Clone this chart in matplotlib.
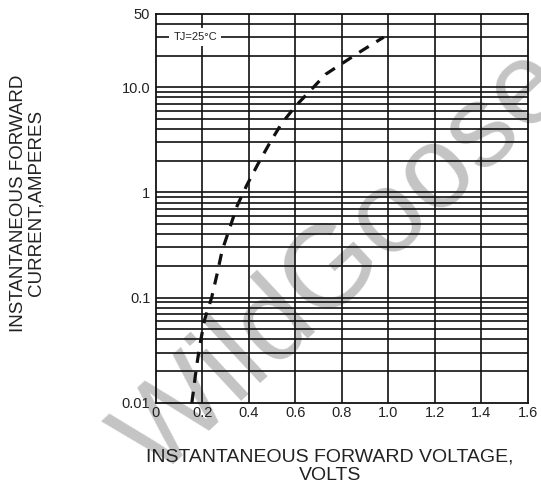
import matplotlib
matplotlib.use('Agg')
import matplotlib.pyplot as plt
import numpy as np

# forward characteristic
volts = [0.155, 0.175, 0.19, 0.21, 0.24, 0.264, 0.285, 0.315, 0.35, 0.39, 0.44,
         0.49, 0.54, 0.60, 0.67, 0.73, 0.80, 0.88, 0.98]
amps = [0.01, 0.022, 0.036, 0.062, 0.10, 0.17, 0.28, 0.44, 0.75, 1.16, 1.88,
        2.96, 4.5, 6.6, 9.6, 13.3, 16.8, 21.9, 30]

xticks = [0, 0.2, 0.4, 0.6, 0.8, 1.0, 1.2, 1.4, 1.6]
xticklabels = ['0', '0.2', '0.4', '0.6', '0.8', '1.0', '1.2', '1.4', '1.6']
yticks = [0.01, 0.1, 1, 10, 50]
yticklabels = ['0.01', '0.1', '1', '10.0', '50']

plt.rcParams['font.family'] = ['Liberation Sans', 'DejaVu Sans']
txt = '#222222'

fig = plt.figure(figsize=(5.41, 4.93), dpi=100)
ax = fig.add_axes([0.288, 0.183, 0.688, 0.789])
ax.set_zorder(2)
ax.patch.set_alpha(0)

ax.set_yscale('log')
ax.set_xlim(0, 1.6)
ax.set_ylim(0.01, 50)

# grid: every 0.2 V, every 1-2-...-9 per decade
for x in xticks[1:-1]:
    ax.axvline(x, color='#111111', lw=1.2, zorder=1)
for dec in [0.01, 0.1, 1, 10]:
    for m in range(2, 10):
        v = dec * m
        if v < 50:
            ax.axhline(v, color='#111111', lw=1.2, zorder=1)
    if dec > 0.01:
        ax.axhline(dec, color='#111111', lw=1.2, zorder=1)

ax.plot(volts, amps, color='#111111', lw=2.3, dashes=(3.5, 2.8), zorder=3)

ax.set_xticks(xticks)
ax.set_xticklabels(xticklabels)
ax.set_yticks(yticks)
ax.set_yticklabels(yticklabels)
ax.minorticks_off()
ax.tick_params(length=0, labelsize=10.5, colors=txt, pad=4)
ax.tick_params(axis='x', pad=2)
for s in ax.spines.values():
    s.set_color('#111111')
    s.set_linewidth(1.3)

ax.text(0.075, 30, 'TJ=25°C', fontsize=8, color=txt, va='center', ha='left',
        bbox=dict(facecolor='white', edgecolor='none', pad=3), zorder=2)

fig.text(0.05, 0.588, 'INSTANTANEOUS FORWARD\nCURRENT,AMPERES', rotation=90,
         ha='center', va='center', fontsize=13.5, color=txt, linespacing=1.0)
fig.text(0.61, 0.055, 'INSTANTANEOUS FORWARD VOLTAGE,\nVOLTS', ha='center',
         va='center', fontsize=14, color=txt, linespacing=1.12)

# watermark, behind everything
fig.text(0.635, 0.465, 'WildGoose', fontsize=84, color='#c4c4c4', rotation=43,
         ha='center', va='center', zorder=0)

fig.savefig('out.png', dpi=100)
